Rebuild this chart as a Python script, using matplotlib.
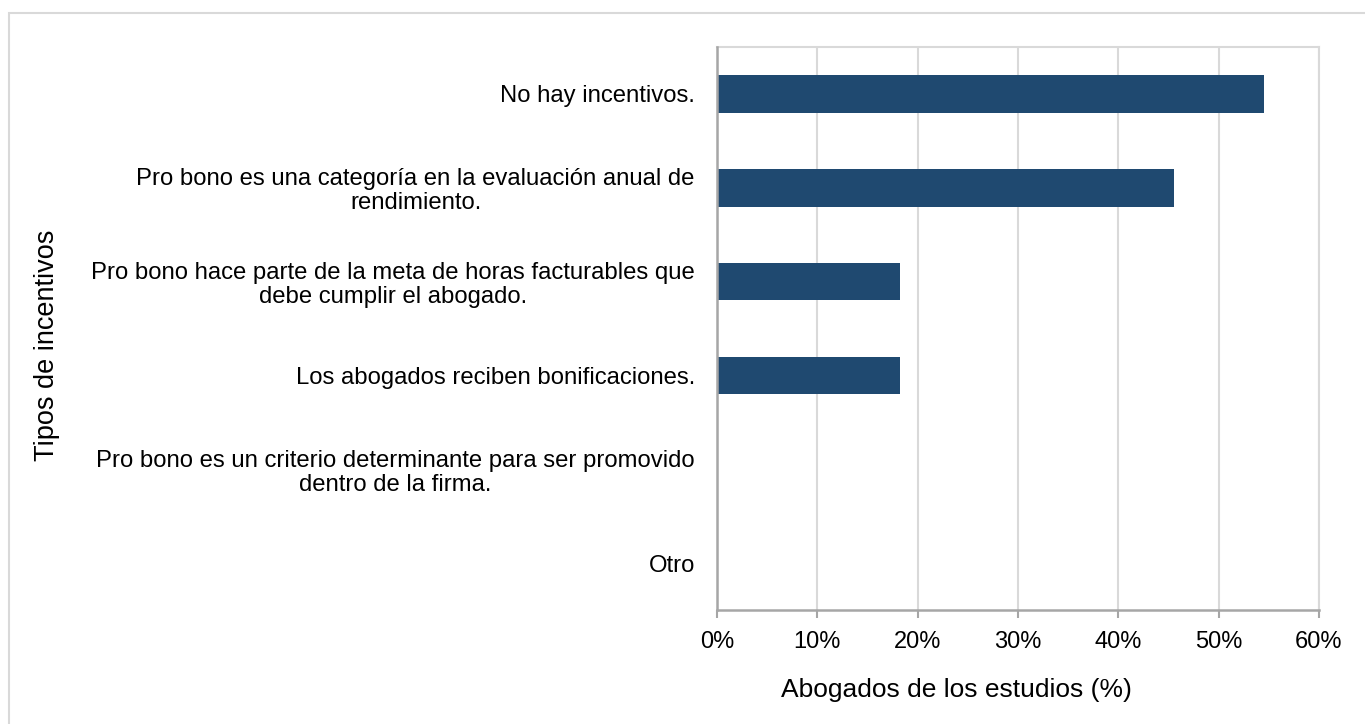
import matplotlib
matplotlib.use("Agg")
import matplotlib.pyplot as plt
from matplotlib.patches import Rectangle
from matplotlib.ticker import FuncFormatter

plt.rcParams["font.family"] = ["Liberation Sans", "DejaVu Sans"]

# incentive types, top to bottom, and share of law-firm lawyers (%)
incentivos = [
    "No hay incentivos.",
    "Pro bono es una categoría en la evaluación anual de\nrendimiento.",
    "Pro bono hace parte de la meta de horas facturables que\ndebe cumplir el abogado.",
    "Los abogados reciben bonificaciones.",
    "Pro bono es un criterio determinante para ser promovido\ndentro de la firma.",
    "Otro",
]
porcentajes = [54.5, 45.5, 18.2, 18.2, 0.0, 0.0]
xticks = [0, 10, 20, 30, 40, 50, 60]

BAR = "#1f4970"
GRID = "#d9d9d9"
AXIS = "#a6a6a6"

fig = plt.figure(figsize=(13.65, 7.24), dpi=100)
ax = fig.add_axes([717 / 1365, 1 - 610 / 724, 602 / 1365, 563 / 724])

# outer frame around the whole chart
fig.patches.append(Rectangle((9 / 1365, -0.1), 1.2, 1.1 - 13 / 724, transform=fig.transFigure,
                             fill=False, edgecolor=GRID, lw=1.5, zorder=0))

ypos = list(range(len(incentivos)))[::-1]
ax.barh(ypos, porcentajes, height=0.4, color=BAR, zorder=3)

ax.set_xlim(0, 60)
ax.set_ylim(-0.5, len(incentivos) - 0.5)
ax.set_xticks(xticks)
ax.xaxis.set_major_formatter(FuncFormatter(lambda v, _: f"{v:.0f}%"))
ax.set_yticks(ypos)
ax.set_yticklabels(incentivos)
for lab in ax.get_yticklabels():
    lab.set_multialignment("center")
    lab.set_linespacing(1.12)

ax.grid(axis="x", color=GRID, lw=1.5, zorder=0)
for side in ("top", "right"):
    ax.spines[side].set_color(GRID)
    ax.spines[side].set_linewidth(1.5)
for side in ("left", "bottom"):
    ax.spines[side].set_color(AXIS)
    ax.spines[side].set_linewidth(1.8)
    ax.spines[side].set_zorder(4)

ax.tick_params(axis="x", length=6, width=1.5, color=AXIS, pad=9, labelsize=17)
ax.tick_params(axis="y", length=0, pad=16, labelsize=17.2)

ax.set_xlabel("Abogados de los estudios (%)", fontsize=19)
ax.xaxis.set_label_coords(0.397, -0.12)
fig.text(47 / 1365, 1 - 345 / 724, "Tipos de incentivos", rotation=90,
         ha="center", va="center", fontsize=19.5)

fig.savefig("out.png", dpi=100, facecolor="white")
